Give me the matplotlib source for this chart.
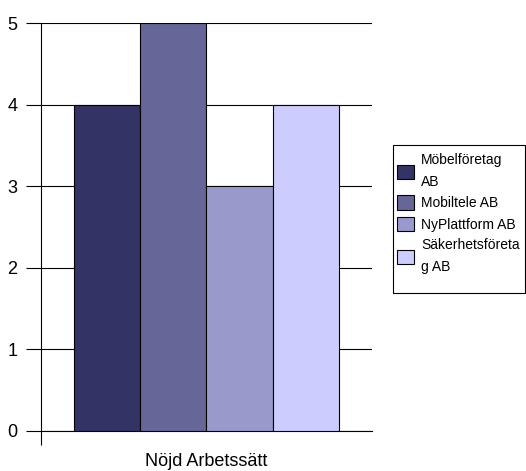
import matplotlib
matplotlib.use("Agg")
import matplotlib.pyplot as plt
from matplotlib.patches import Rectangle

plt.rcParams['font.family'] = ['Liberation Sans', 'DejaVu Sans']

category = "Nöjd Arbetssätt"
series = ["Möbelföretag\nAB", "Mobiltele AB", "NyPlattform AB", "Säkerhetsföreta\ng AB"]
values = [4, 5, 3, 4]
colors = ["#333366", "#666699", "#9999CC", "#CCCCFF"]
yticks = [0, 1, 2, 3, 4, 5]

W, H = 526, 471
fig = plt.figure(figsize=(W / 100, H / 100), dpi=100)
ax = fig.add_axes([0.078, 0.085, 0.629, 0.866])

n = len(series)
width = 0.8 / n
for i, (name, v, c) in enumerate(zip(series, values, colors)):
    ax.bar(0.1 + width * (i + 0.5), v, width=width, color=c,
           edgecolor="black", linewidth=0.8, label=name, zorder=3)

ax.set_xlim(0, 1)
ax.set_ylim(0, 5)
ax.set_yticks(yticks)
ax.set_xticks([0])
ax.set_xticklabels([""])
ax.tick_params(axis='x', length=10, width=0.8, direction='out')
ax.tick_params(axis='y', length=11, width=0.8, direction='out', labelsize=13, pad=6)
ax.grid(axis='y', color='black', linewidth=0.8, zorder=0)
for s in ['top', 'right']:
    ax.spines[s].set_visible(False)
ax.spines['left'].set_linewidth(0.8)
ax.spines['bottom'].set_linewidth(0.8)

# category label under the bar group
fig.text(0.392, 1 - 461 / H, category, fontsize=13, ha='center', va='center')

# legend box drawn as its own frame, entries placed inside it
fig.add_artist(Rectangle((393 / W, 1 - 293 / H), 132 / W, 148 / H,
                         transform=fig.transFigure, facecolor='white',
                         edgecolor='black', linewidth=0.8))
leg = fig.legend(loc='upper left', bbox_to_anchor=(397 / W, 1 - 153 / H),
                 fontsize=10, frameon=False,
                 handlelength=1.22, handleheight=1.22, handletextpad=0.5,
                 borderpad=0, labelspacing=0.45, borderaxespad=0)
for t in leg.get_texts():
    t.set_linespacing(1.75)

fig.savefig("out.png", dpi=100)
